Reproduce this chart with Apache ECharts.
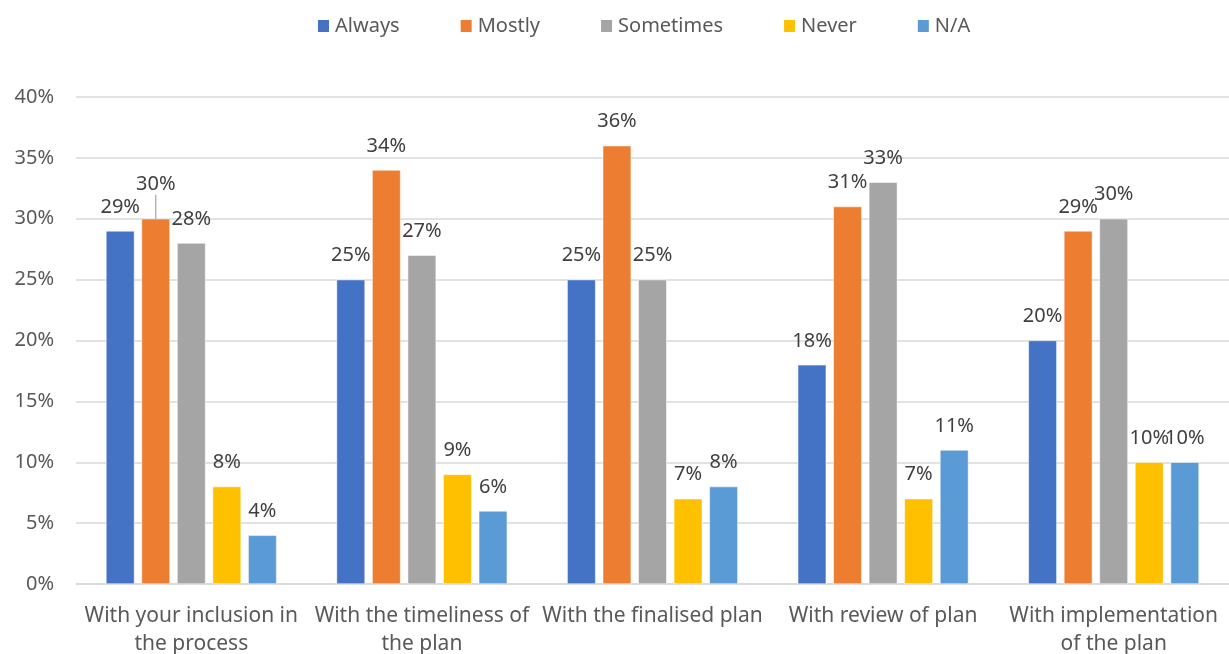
<!DOCTYPE html>
<html>
<head>
<meta charset="utf-8">
<script src="https://cdn.jsdelivr.net/npm/echarts@6/dist/echarts.min.js"></script>
<style>
  html, body { margin: 0; padding: 0; background: #fff; }
  #chart { width: 1229px; height: 654px; }
</style>
</head>
<body>
<div id="chart"></div>
<script>
var categories = [
    'With your inclusion in\nthe process',
    'With the timeliness of\nthe plan',
    'With the finalised plan',
    'With review of plan',
    'With implementation\nof the plan'
];
var seriesNames = ['Always', 'Mostly', 'Sometimes', 'Never', 'N/A'];
var always = [29, 25, 25, 18, 20];
var mostly = [30, 34, 36, 31, 29];
var sometimes = [28, 27, 25, 33, 30];
var never = [8, 9, 7, 7, 10];
var notApplicable = [4, 6, 8, 11, 10];
var colors = ['#4472c4', '#ed7d31', '#a5a5a5', '#ffc000', '#5b9bd5'];

var chart = echarts.init(document.getElementById('chart'));
var font = '"Noto Sans", "Open Sans", sans-serif';
var allData = [always, mostly, sometimes, never, notApplicable];

var series = seriesNames.map(function (name, i) {
    var data = allData[i].map(function (v, j) {
        // the first "Mostly" label sits higher with a leader line, as in the source
        if (i === 1 && j === 0) {
            return { value: v, labelLine: { show: true, length2: 0 } };
        }
        return v;
    });
    return {
        name: name,
        type: 'bar',
        barGap: '25%',
        barCategoryGap: '26%',
        itemStyle: { color: colors[i], borderColor: '#fff', borderWidth: 0.5 },
        label: {
            show: true,
            position: 'top',
            distance: 14,
            formatter: '{c}%',
            color: '#404040',
            fontSize: 20,
            fontFamily: font
        },
        labelLine: { show: false, lineStyle: { color: '#a6a6a6', width: 1.2 } },
        labelLayout: i === 1 ? function (p) {
            if (p.dataIndex === 0) return { dy: -10 };
        } : null,
        data: data
    };
});

chart.setOption({
    animation: false,
    color: colors,
    legend: {
        data: seriesNames,
        top: 11,
        left: 311,
        itemWidth: 13,
        itemHeight: 14,
        itemGap: 59,
        icon: 'rect',
        textStyle: { color: '#595959', fontSize: 20, fontFamily: font }
    },
    grid: { left: 76, right: 0, top: 97, bottom: 70, outerBoundsMode: 'none' },
    xAxis: {
        type: 'category',
        data: categories,
        axisTick: { show: false },
        axisLine: { lineStyle: { color: '#d9d9d9', width: 1.5 } },
        axisLabel: {
            color: '#595959',
            fontSize: 21,
            fontFamily: font,
            margin: 18,
            lineHeight: 28,
            interval: 0
        }
    },
    yAxis: {
        type: 'value',
        min: 0,
        max: 40,
        interval: 5,
        axisLabel: {
            formatter: '{value}%',
            color: '#595959',
            fontSize: 20,
            fontFamily: font,
            margin: 22
        },
        axisLine: { show: false },
        axisTick: { show: false },
        splitLine: { lineStyle: { color: '#d9d9d9', width: 1.5 } }
    },
    series: series
});
</script>
</body>
</html>
